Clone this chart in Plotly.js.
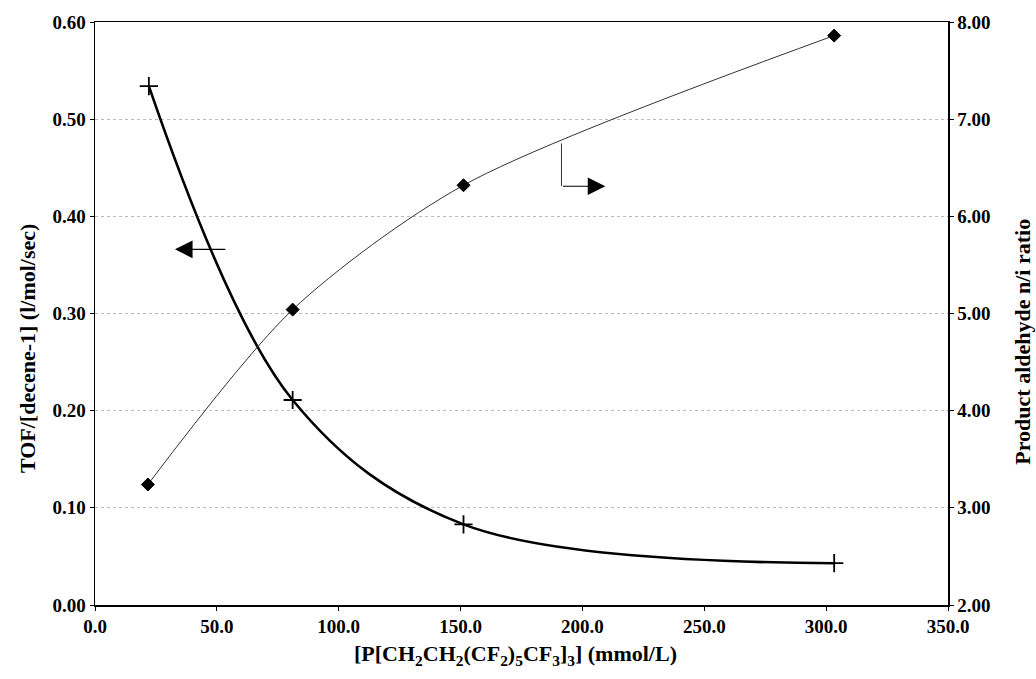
<!DOCTYPE html>
<html>
<head>
<meta charset="utf-8">
<script src="https://cdn.plot.ly/plotly-3.0.1.min.js"></script>
<style>html,body{margin:0;padding:0;background:#fff;}#chart{width:1036px;height:679px;}</style>
</head>
<body>
<div id="chart"></div>
<script>
// Data
const ligandConc = [22.1, 81.1, 151.2, 303.3];          // mmol/L
const tofValues = [0.534, 0.211, 0.083, 0.043];          // l/mol/sec (left axis)
const ratioConc = [21.7, 81.1, 151.2, 303.3];
const nIRatio = [3.24, 5.04, 6.32, 7.86];                // right axis

const xTicks = [0, 50, 100, 150, 200, 250, 300, 350];
const yLeftTicks = [0, 0.1, 0.2, 0.3, 0.4, 0.5, 0.6];
const yRightTicks = [2, 3, 4, 5, 6, 7, 8];

const xTitle = '[P[CH<sub>2</sub>CH<sub>2</sub>(CF<sub>2</sub>)<sub>5</sub>CF<sub>3</sub>]<sub>3</sub>] (mmol/L)';
const yLeftTitle = 'TOF/[decene-1] (l/mol/sec)';
const yRightTitle = 'Product aldehyde n/i ratio';

// Arrow indicators (data coords)
const leftArrow = {fromX: 54.1, toX: 32.8, y: 0.366};
const rightArrow = {x: 191.4, yTop: 0.475, yBottom: 0.431, toX: 209.4};

const fontFam = '"Liberation Serif", "Times New Roman", serif';

const traces = [
  {
    x: ligandConc, y: tofValues, type: 'scatter', mode: 'lines+markers',
    line: {color: '#000', width: 2.6, shape: 'spline', smoothing: 1},
    marker: {symbol: 'cross-thin-open', size: 13, color: '#000', line: {color: '#000', width: 1.8}},
    showlegend: false, yaxis: 'y', hoverinfo: 'skip'
  },
  {
    x: ratioConc, y: nIRatio, type: 'scatter', mode: 'lines+markers',
    line: {color: '#333', width: 1, shape: 'spline', smoothing: 0.8},
    marker: {symbol: 'diamond', size: 10, color: '#000', line: {color: '#000', width: 1}},
    showlegend: false, yaxis: 'y2', hoverinfo: 'skip'
  }
];

const tickFont = {family: fontFam, size: 19, color: '#000', weight: 'bold'};
const titleFont = {family: fontFam, size: 22, color: '#000', weight: 'bold'};

const layout = {
  width: 1036, height: 679,
  margin: {l: 95, r: 88, t: 22, b: 74},
  paper_bgcolor: '#fff', plot_bgcolor: '#fff',
  font: {family: fontFam, color: '#000'},
  xaxis: {
    range: [0, 350], tickvals: xTicks, ticktext: xTicks.map(v => v.toFixed(1)),
    showgrid: false, zeroline: false,
    showline: true, linecolor: '#000', linewidth: 1.5, mirror: true,
    ticks: 'outside', ticklen: 4, tickcolor: '#000',
    tickfont: tickFont
  },
  yaxis: {
    range: [0, 0.6], tickvals: yLeftTicks, ticktext: yLeftTicks.map(v => v.toFixed(2)),
    showgrid: true, gridcolor: '#bbb', griddash: 'dot', gridwidth: 1, zeroline: false,
    showline: true, linecolor: '#000', linewidth: 1.5,
    ticks: 'outside', ticklen: 4, tickcolor: '#000',
    tickfont: tickFont
  },
  yaxis2: {
    range: [2, 8], tickvals: yRightTicks, ticktext: yRightTicks.map(v => v.toFixed(2)),
    overlaying: 'y', side: 'right',
    showgrid: false, zeroline: false,
    showline: true, linecolor: '#000', linewidth: 1.5,
    ticks: 'outside', ticklen: 4, tickcolor: '#000',
    tickfont: tickFont
  },
  shapes: [
    {type: 'line', xref: 'x', yref: 'y', x0: rightArrow.x, x1: rightArrow.x,
     y0: rightArrow.yTop, y1: rightArrow.yBottom, line: {color: '#333', width: 1}}
  ],
  annotations: [
    {x: leftArrow.toX, y: leftArrow.y, ax: leftArrow.fromX, ay: leftArrow.y,
     xref: 'x', yref: 'y', axref: 'x', ayref: 'y', text: '', showarrow: true,
     arrowhead: 2, arrowsize: 3.2, arrowwidth: 1.1, arrowcolor: '#000'},
    {x: rightArrow.toX, y: rightArrow.yBottom, ax: rightArrow.x, ay: rightArrow.yBottom,
     xref: 'x', yref: 'y', axref: 'x', ayref: 'y', text: '', showarrow: true,
     arrowhead: 2, arrowsize: 3.2, arrowwidth: 1.1, arrowcolor: '#000'},
    {text: xTitle, xref: 'paper', yref: 'paper', x: 0.493, y: -0.086,
     xanchor: 'center', yanchor: 'middle', showarrow: false, font: titleFont},
    {text: yLeftTitle, xref: 'paper', yref: 'paper', x: -0.079, y: 0.44,
     xanchor: 'center', yanchor: 'middle', showarrow: false, textangle: -90, font: titleFont},
    {text: yRightTitle, xref: 'paper', yref: 'paper', x: 1.087, y: 0.452,
     xanchor: 'center', yanchor: 'middle', showarrow: false, textangle: -90, font: titleFont}
  ]
};

Plotly.newPlot('chart', traces, layout, {staticPlot: true, displayModeBar: false});
</script>
</body>
</html>
